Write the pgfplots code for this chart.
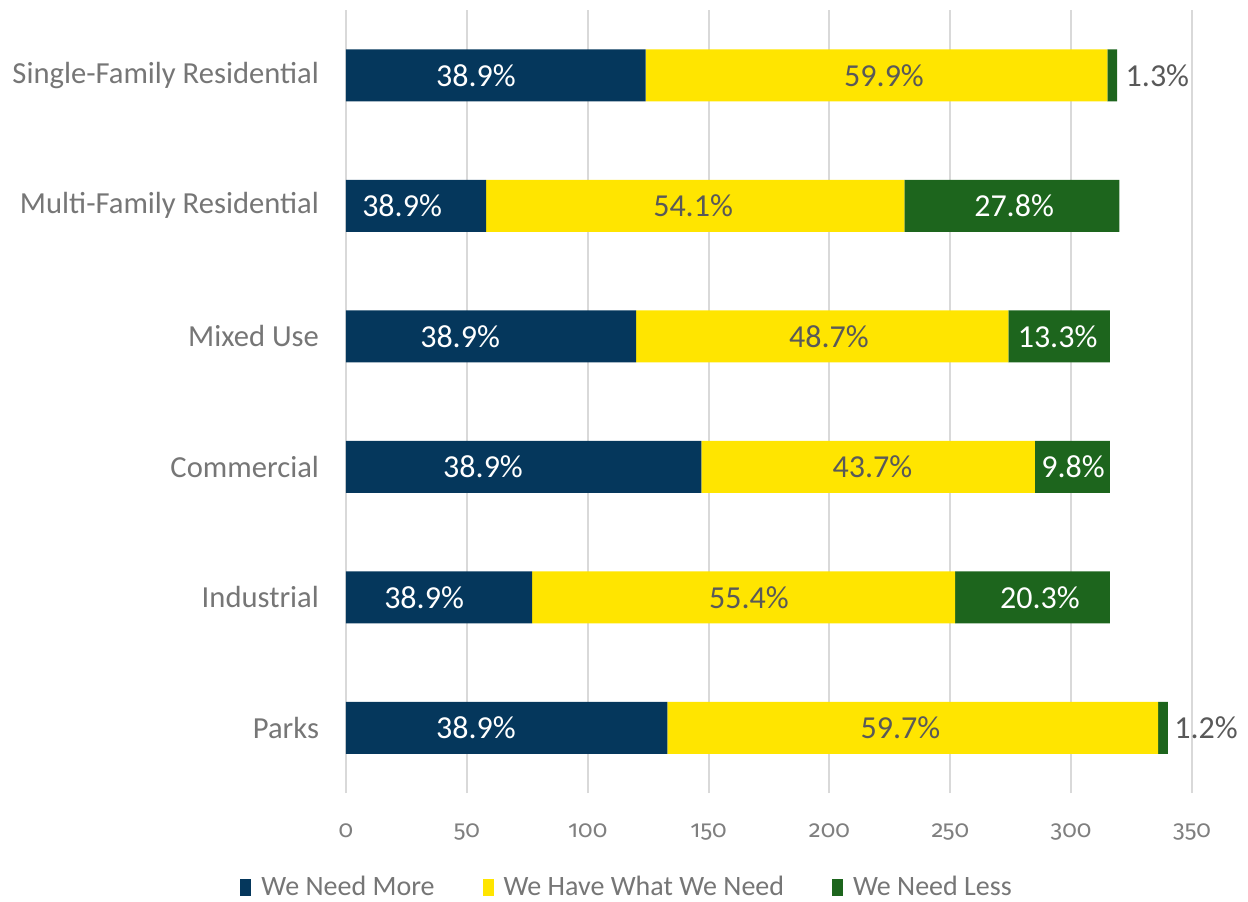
\documentclass[border=0pt]{standalone}
\usepackage{fontspec}
\setmainfont{Carlito}
\newfontfamily\tickfont[Numbers={OldStyle,Proportional}]{Fira Sans}
\usepackage{pgfplots}
\pgfplotsset{compat=1.18}
\definecolor{navy}{HTML}{05375C}
\definecolor{sun}{HTML}{FFE500}
\definecolor{leaf}{HTML}{1D651D}
\definecolor{gridgray}{HTML}{D9D9D9}
\definecolor{catgray}{HTML}{767676}
\definecolor{tickgray}{HTML}{7F7F7F}
\definecolor{lblgray}{HTML}{595959}
\pgfplotsset{
  frame/.style={scale only axis, width=423pt, height=391.5pt,
    xmin=0, xmax=350, ymin=-0.5, ymax=5.5},
  lbl/.style={only marks, mark=none, nodes near coords, point meta=explicit symbolic,
    every node near coord/.style={anchor=center, font=\fontsize{16}{19}\selectfont, text=#1}},
}
\begin{document}
\begin{tikzpicture}
\begin{axis}[
  frame,
  xbar stacked,
  bar width=26pt,
  xtick={0,50,...,350},
  ytick={0,...,5},
  yticklabels={Parks,Industrial,Commercial,Mixed Use,Multi-Family Residential,Single-Family Residential},
  xmajorgrids,
  grid style={draw=gridgray, line width=1pt},
  axis line style={draw=none},
  major tick length=0pt,
  tick style={draw=none},
  yticklabel style={font=\fontsize{15.3}{18}\selectfont, text=catgray, xshift=-10pt},
  xticklabel style={font=\tickfont\fontsize{12}{15}\selectfont, text=tickgray, yshift=-12pt},
  /pgf/number format/assume math mode=true,
  legend style={at={(0.337,-0.12)}, anchor=center, draw=none, legend columns=3,
    font=\fontsize{14}{17}\selectfont, text=catgray,
    /tikz/every even column/.append style={column sep=19pt}},
  legend image code/.code={\fill[#1, draw=none] (0pt,-4.5pt) rectangle (5.5pt,4pt);},
  legend style={/tikz/every node/.append style={inner xsep=5pt}},
]
\addplot[fill=navy, draw=none] coordinates {(124,5) (58,4) (120,3) (147,2) (77,1) (133,0)};
\addplot[fill=sun, draw=none] coordinates {(191,5) (173,4) (154,3) (138,2) (175,1) (203,0)};
\addplot[fill=leaf, draw=none] coordinates {(4,5) (89,4) (42,3) (31,2) (64,1) (4,0)};
\legend{We Need More, We Have What We Need, We Need Less}
\end{axis}
% data labels, placed where the reference shows them
\begin{axis}[frame, hide axis, clip=false]
\addplot[lbl=white] coordinates {
  (53.8,5) [38.9\%]
  (23.2,4) [38.9\%]
  (47.2,3) [38.9\%]
  (56.7,2) [38.9\%]
  (32.3,1) [38.9\%]
  (53.8,0) [38.9\%]
};
\addplot[lbl=lblgray] coordinates {
  (222.6,5) [59.9\%]
  (143.6,4) [54.1\%]
  (199.8,3) [48.7\%]
  (217.8,2) [43.7\%]
  (166.7,1) [55.4\%]
  (229.4,0) [59.7\%]
};
\addplot[lbl=white] coordinates {
  (276.4,4) [27.8\%]
  (294.4,3) [13.3\%]
  (300.8,2) [9.8\%]
  (287.1,1) [20.3\%]
};
\addplot[lbl=lblgray] coordinates {
  (335.7,5) [1.3\%]
  (355.8,0) [1.2\%]
};
\end{axis}
\pgfresetboundingbox
\path (-173pt,-54pt) rectangle (451pt,396.5pt);
\end{tikzpicture}
\end{document}
